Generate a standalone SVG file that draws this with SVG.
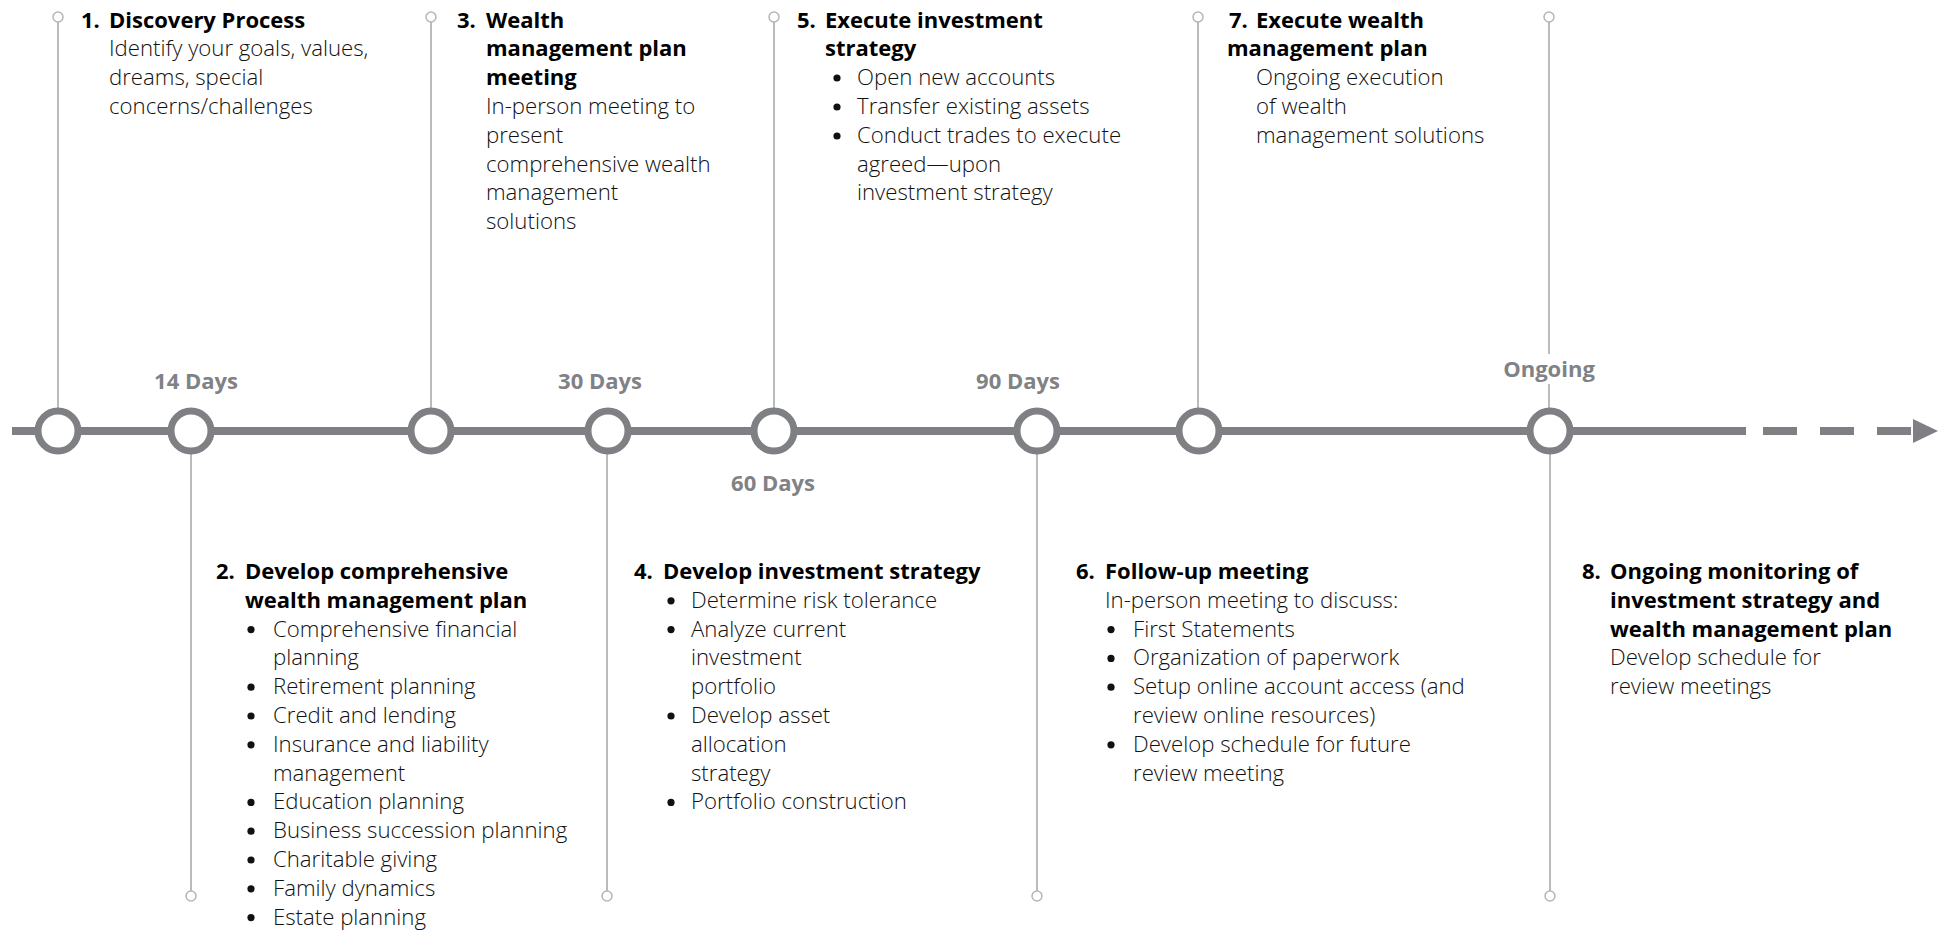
<svg xmlns="http://www.w3.org/2000/svg" width="1946" height="930" viewBox="0 0 1946 930">
<style>
text{font-family:"Open Sans","Noto Sans","Liberation Sans",sans-serif;font-size:22.2px;font-weight:300;fill:#111}
.t{font-weight:700;font-size:22px;fill:#000}
.d{font-weight:700;fill:#808285;font-size:22px;text-anchor:middle}
.axis{stroke:#7f8084;stroke-width:8;fill:none}
.ms{fill:#fff;stroke:#7f8084;stroke-width:7}
.stem{stroke:#a3a4a6;stroke-width:1.5;fill:none}
.end{fill:#fff;stroke:#b5b6b8;stroke-width:1.5}
.bu{fill:#111}
</style>
<rect width="1946" height="930" fill="#fff"/>
<g id="connectors">
  <line class="axis" x1="12" y1="431" x2="1746" y2="431"/>
  <line class="axis" x1="1763" y1="431" x2="1911" y2="431" stroke-dasharray="34 23"/>
  <polygon points="1913,419 1938,431 1913,443" fill="#7f8084"/>
  <line class="stem" x1="58" y1="22" x2="58" y2="410"/>
  <line class="stem" x1="431" y1="22" x2="431" y2="410"/>
  <line class="stem" x1="774" y1="22" x2="774" y2="410"/>
  <line class="stem" x1="1198" y1="22" x2="1198" y2="410"/>
  <line class="stem" x1="1549" y1="22" x2="1549" y2="354"/>
  <line class="stem" x1="1549" y1="384" x2="1549" y2="410"/>
  <line class="stem" x1="191" y1="452" x2="191" y2="891"/>
  <line class="stem" x1="607" y1="452" x2="607" y2="891"/>
  <line class="stem" x1="1037" y1="452" x2="1037" y2="891"/>
  <line class="stem" x1="1550" y1="452" x2="1550" y2="891"/>
  <circle class="end" cx="58" cy="17" r="5"/>
  <circle class="end" cx="431" cy="17" r="5"/>
  <circle class="end" cx="774" cy="17" r="5"/>
  <circle class="end" cx="1198" cy="17" r="5"/>
  <circle class="end" cx="1549" cy="17" r="5"/>
  <circle class="end" cx="191" cy="896" r="5"/>
  <circle class="end" cx="607" cy="896" r="5"/>
  <circle class="end" cx="1037" cy="896" r="5"/>
  <circle class="end" cx="1550" cy="896" r="5"/>
</g>
<g id="milestones">
  <circle class="ms" cx="58" cy="431" r="20"/>
  <circle class="ms" cx="191" cy="431" r="20"/>
  <circle class="ms" cx="431" cy="431" r="20"/>
  <circle class="ms" cx="608" cy="431" r="20"/>
  <circle class="ms" cx="774" cy="431" r="20"/>
  <circle class="ms" cx="1037" cy="431" r="20"/>
  <circle class="ms" cx="1199" cy="431" r="20"/>
  <circle class="ms" cx="1550" cy="431" r="20"/>
</g>
<g id="labels">
  <text class="d" x="196" y="389">14 Days</text>
  <text class="d" x="600" y="389">30 Days</text>
  <text class="d" x="773" y="491">60 Days</text>
  <text class="d" x="1018" y="389">90 Days</text>
  <text class="d" x="1549" y="377">Ongoing</text>
</g>
<g id="step1">
  <text class="t" x="81" y="27.5">1.</text>
  <text class="t" x="109" y="27.5">Discovery Process</text>
  <text x="109" y="56.3">Identify your goals, values,</text>
  <text x="109" y="85.1">dreams, special</text>
  <text x="109" y="113.9">concerns/challenges</text>
</g>
<g id="step3">
  <text class="t" x="457" y="27.5">3.</text>
  <text class="t" x="486" y="27.5">Wealth</text>
  <text class="t" x="486" y="56.3">management plan</text>
  <text class="t" x="486" y="85.1">meeting</text>
  <text x="486" y="113.9">In-person meeting to</text>
  <text x="486" y="142.7">present</text>
  <text x="486" y="171.5">comprehensive wealth</text>
  <text x="486" y="200.3">management</text>
  <text x="486" y="229.1">solutions</text>
</g>
<g id="step5">
  <text class="t" x="797" y="27.5">5.</text>
  <text class="t" x="825" y="27.5">Execute investment</text>
  <text class="t" x="825" y="56.3">strategy</text>
  <circle class="bu" cx="837" cy="78" r="3.6"/>
  <text x="857" y="85.1">Open new accounts</text>
  <circle class="bu" cx="837" cy="107" r="3.6"/>
  <text x="857" y="113.9">Transfer existing assets</text>
  <circle class="bu" cx="837" cy="136" r="3.6"/>
  <text x="857" y="142.7">Conduct trades to execute</text>
  <text x="857" y="171.5">agreed—upon</text>
  <text x="857" y="200.3">investment strategy</text>
</g>
<g id="step7">
  <text class="t" x="1229" y="27.5">7.</text>
  <text class="t" x="1256" y="27.5">Execute wealth</text>
  <text class="t" x="1227" y="56.3">management plan</text>
  <text x="1256" y="85.1">Ongoing execution</text>
  <text x="1256" y="113.9">of wealth</text>
  <text x="1256" y="142.7">management solutions</text>
</g>
<g id="step2">
  <text class="t" x="216" y="579">2.</text>
  <text class="t" x="245" y="579">Develop comprehensive</text>
  <text class="t" x="245" y="607.8">wealth management plan</text>
  <circle class="bu" cx="251" cy="629.6" r="3.6"/>
  <text x="273" y="636.6">Comprehensive financial</text>
  <text x="273" y="665.4">planning</text>
  <circle class="bu" cx="251" cy="687.2" r="3.6"/>
  <text x="273" y="694.2">Retirement planning</text>
  <circle class="bu" cx="251" cy="716" r="3.6"/>
  <text x="273" y="723">Credit and lending</text>
  <circle class="bu" cx="251" cy="744.8" r="3.6"/>
  <text x="273" y="751.8">Insurance and liability</text>
  <text x="273" y="780.6">management</text>
  <circle class="bu" cx="251" cy="802.4" r="3.6"/>
  <text x="273" y="809.4">Education planning</text>
  <circle class="bu" cx="251" cy="831.2" r="3.6"/>
  <text x="273" y="838.2">Business succession planning</text>
  <circle class="bu" cx="251" cy="860" r="3.6"/>
  <text x="273" y="867">Charitable giving</text>
  <circle class="bu" cx="251" cy="888.8" r="3.6"/>
  <text x="273" y="895.8">Family dynamics</text>
  <circle class="bu" cx="251" cy="917.6" r="3.6"/>
  <text x="273" y="924.6">Estate planning</text>
</g>
<g id="step4">
  <text class="t" x="634" y="579">4.</text>
  <text class="t" x="663" y="579">Develop investment strategy</text>
  <circle class="bu" cx="671" cy="600.8" r="3.6"/>
  <text x="691" y="607.8">Determine risk tolerance</text>
  <circle class="bu" cx="671" cy="629.6" r="3.6"/>
  <text x="691" y="636.6">Analyze current</text>
  <text x="691" y="665.4">investment</text>
  <text x="691" y="694.2">portfolio</text>
  <circle class="bu" cx="671" cy="716" r="3.6"/>
  <text x="691" y="723">Develop asset</text>
  <text x="691" y="751.8">allocation</text>
  <text x="691" y="780.6">strategy</text>
  <circle class="bu" cx="671" cy="802.4" r="3.6"/>
  <text x="691" y="809.4">Portfolio construction</text>
</g>
<g id="step6">
  <text class="t" x="1076" y="579">6.</text>
  <text class="t" x="1105" y="579">Follow-up meeting</text>
  <text x="1105" y="607.8">In-person meeting to discuss:</text>
  <circle class="bu" cx="1111" cy="629.6" r="3.6"/>
  <text x="1133" y="636.6">First Statements</text>
  <circle class="bu" cx="1111" cy="658.4" r="3.6"/>
  <text x="1133" y="665.4">Organization of paperwork</text>
  <circle class="bu" cx="1111" cy="687.2" r="3.6"/>
  <text x="1133" y="694.2">Setup online account access (and</text>
  <text x="1133" y="723">review online resources)</text>
  <circle class="bu" cx="1111" cy="744.8" r="3.6"/>
  <text x="1133" y="751.8">Develop schedule for future</text>
  <text x="1133" y="780.6">review meeting</text>
</g>
<g id="step8">
  <text class="t" x="1582" y="579">8.</text>
  <text class="t" x="1610" y="579">Ongoing monitoring of</text>
  <text class="t" x="1610" y="607.8">investment strategy and</text>
  <text class="t" x="1610" y="636.6">wealth management plan</text>
  <text x="1610" y="665.4">Develop schedule for</text>
  <text x="1610" y="694.2">review meetings</text>
</g>
</svg>
